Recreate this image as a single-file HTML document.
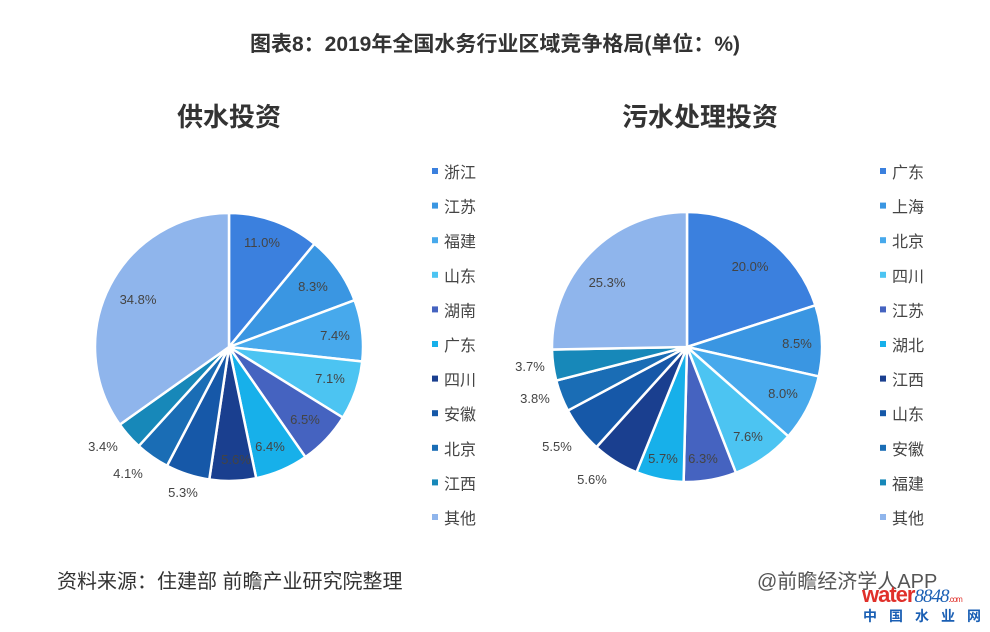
<!DOCTYPE html>
<html><head><meta charset="utf-8">
<style>
body{margin:0;background:#fff;}
#wrap{position:relative;width:990px;height:632px;overflow:hidden;background:#fff;font-family:"Liberation Sans","Noto Sans CJK SC",sans-serif;}
.t{position:absolute;white-space:nowrap;}
</style></head><body>
<div id="wrap">
<div class="t" style="left:0;width:990px;top:28px;text-align:center;font-size:21px;font-weight:bold;color:#333;">图表8：2019年全国水务行业区域竞争格局(单位：%)</div>
<div class="t" style="left:129px;width:200px;top:97px;text-align:center;font-size:26px;font-weight:bold;color:#333;">供水投资</div>
<div class="t" style="left:580px;width:240px;top:97px;text-align:center;font-size:26px;font-weight:bold;color:#333;">污水处理投资</div>
<svg id="svg" width="990" height="632" style="position:absolute;left:0;top:0"></svg>
<div class="t" style="left:57px;top:565px;font-size:20px;color:#333;">资料来源：住建部 前瞻产业研究院整理</div>
<div class="t" style="left:757px;top:565px;font-size:20px;color:#555;">@前瞻经济学人APP</div>
<div class="t" style="left:862px;top:582px;font-size:22px;font-weight:bold;color:#e0302a;letter-spacing:-1px;">water<span style="font-family:'Liberation Serif',serif;font-style:italic;font-weight:normal;color:#1a5fb4;font-size:19px;">8848</span><span style="font-size:8px;color:#e0302a;font-weight:normal;">.com</span></div>
<div class="t" style="left:863px;top:606px;font-size:14px;color:#1a5fb4;letter-spacing:12px;font-weight:bold;">中国水业网</div>
</div>
<script>
var C=["#3b80de","#3a96e2","#47a9ec","#4cc4f2","#4563c0","#17b0ea","#1a3f8f","#1658a8","#1a6db5","#1788b9","#8fb5ec"];
var ns="http://www.w3.org/2000/svg",svg=document.getElementById("svg");
function el(n,a,txt){var e=document.createElementNS(ns,n);for(var k in a)e.setAttribute(k,a[k]);if(txt!=null)e.textContent=txt;svg.appendChild(e);return e;}
function pie(cx,cy,r,vals,labels,lx,names){
 var tot=0;vals.forEach(function(v){tot+=v});var a=-Math.PI/2;
 vals.forEach(function(v,i){var b=a+v/tot*2*Math.PI;
  var x1=cx+r*Math.cos(a),y1=cy+r*Math.sin(a),x2=cx+r*Math.cos(b),y2=cy+r*Math.sin(b);
  el("path",{d:"M"+cx+","+cy+"L"+x1+","+y1+"A"+r+","+r+" 0 "+((b-a)>Math.PI?1:0)+" 1 "+x2+","+y2+"Z",fill:C[i],stroke:"#fff","stroke-width":2.5});a=b;});
 labels.forEach(function(l){el("text",{x:l[0],y:l[1],"font-size":13,fill:"#444","text-anchor":"middle","font-family":"Liberation Sans,sans-serif"},l[2]);});
 names.forEach(function(n,i){var y=172+i*34.6;el("rect",{x:lx,y:y-4,width:6,height:6,fill:C[i]});
  el("text",{x:lx+12,y:y+6,"font-size":16,fill:"#444","font-family":"Liberation Sans,Noto Sans CJK SC,sans-serif"},n);});
}
pie(229,347,134,[11.0,8.3,7.4,7.1,6.5,6.4,5.6,5.3,4.1,3.4,34.8],
 [[262,247,"11.0%"],[313,291,"8.3%"],[335,340,"7.4%"],[330,383,"7.1%"],[305,424,"6.5%"],[270,451,"6.4%"],[236,464,"5.6%"],[183,497,"5.3%"],[128,478,"4.1%"],[103,451,"3.4%"],[138,304,"34.8%"]],
 432,["浙江","江苏","福建","山东","湖南","广东","四川","安徽","北京","江西","其他"]);
pie(687,347,135,[20.0,8.5,8.0,7.6,6.3,5.7,5.6,5.5,3.8,3.7,25.3],
 [[750,271,"20.0%"],[797,348,"8.5%"],[783,398,"8.0%"],[748,441,"7.6%"],[703,463,"6.3%"],[663,463,"5.7%"],[592,484,"5.6%"],[557,451,"5.5%"],[535,403,"3.8%"],[530,371,"3.7%"],[607,287,"25.3%"]],
 880,["广东","上海","北京","四川","江苏","湖北","江西","山东","安徽","福建","其他"]);
</script>
</body></html>
